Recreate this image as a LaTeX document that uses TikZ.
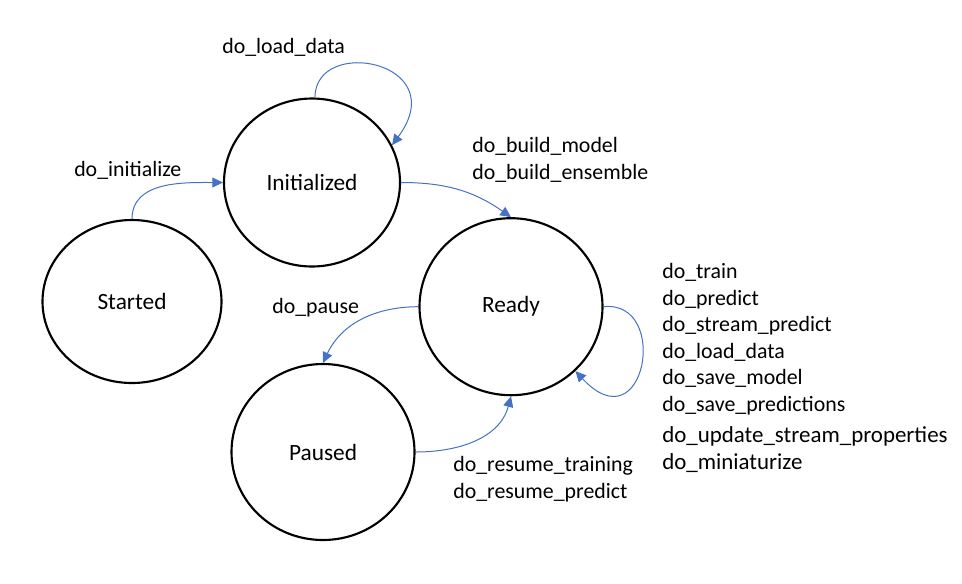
\documentclass[tikz,border=0pt]{standalone}
\usepackage{fontspec}
\setmainfont{Carlito}
\usepackage{tikz}
\usetikzlibrary{arrows.meta,shapes.geometric}

\definecolor{trblue}{HTML}{4472C4}

\begin{document}
\begin{tikzpicture}[x=0.75pt, y=-0.75pt, ->, >={Triangle[length=8pt,width=7.5pt]}]

	\tikzstyle{state}=[ellipse,draw=black,line width=1.6pt,inner sep=0pt,font=\fontsize{17.5}{21}\selectfont]
	\tikzstyle{trans}=[draw=trblue,line width=0.75pt]
	\tikzstyle{lbl}=[anchor=west,align=left,inner sep=0pt,font=\fontsize{16.4}{19.9}\selectfont]
	\useasboundingbox (0,0) rectangle (962,583);

	\node[state,minimum width=134.25pt,minimum height=122.25pt] (S) at (132,301.5) {Started};
	\node[state,minimum width=132pt,minimum height=126pt] (I) at (312,182.5) {Initialized};
	\node[state,minimum width=137.25pt,minimum height=132.75pt] (R) at (511,306.7) {Ready};
	\node[state,minimum width=137.25pt,minimum height=132pt] (P) at (323,452) {Paused};

	% labels
	\node[lbl] (lInit) at (74,170) {do\_initialize};
	\node[lbl] (lLoad) at (222,47) {do\_load\_data};
	\node[lbl] (lBuild) at (472,160) {do\_build\_model\\do\_build\_ensemble};
	\node[lbl] (lPause) at (272,308) {do\_pause};
	\node[lbl] (lReady) at (662,368) {do\_train\\do\_predict\\do\_stream\_predict\\do\_load\_data\\do\_save\_model\\do\_save\_predictions\\[3.6pt]
		{\fontsize{17.2}{20}\selectfont do\_update\_stream\_properties}\\{\fontsize{17.2}{20}\selectfont do\_miniaturize}};
	\node[lbl] (lResume) at (453,479) {do\_resume\_training\\do\_resume\_predict};

	% From Started
	\path (S.north) edge[trans,out=90,in=180] (I.west);

	% From Initialized
	\draw[trans] (I.88) .. controls +(0,-62) and +(62,-84) .. (I.25);
	\path (I.east) edge[trans,out=0,in=145] (R.north);

	% From Ready
	\draw[trans] (R.east) .. controls +(67,-7) and +(70,75) .. (R.-45);
	\path (R.west) edge[trans,out=180,in=65] (P.north);

	% From Paused
	\path (P.east) edge[trans,out=0,in=-105] (R.south);

\end{tikzpicture}
\end{document}
